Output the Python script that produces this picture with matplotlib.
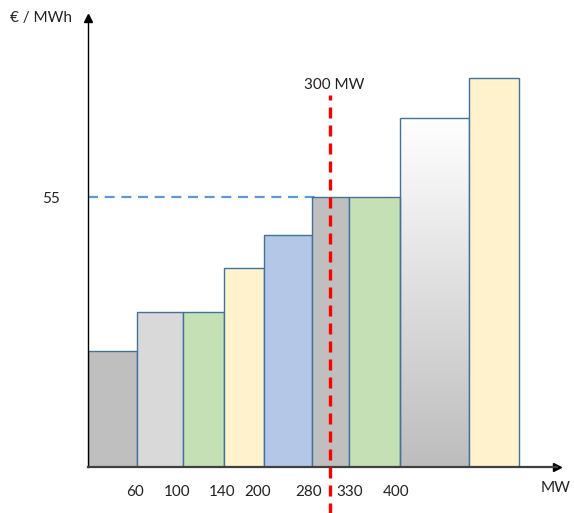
import numpy as np
import matplotlib.pyplot as plt
from matplotlib.colors import LinearSegmentedColormap
from matplotlib.patches import Rectangle

plt.rcParams['font.family'] = ['Lato', 'DejaVu Sans']

# Schematic merit-order blocks (width in chart units, price in EUR/MWh)
block_widths = [49, 46, 41, 40, 48, 37, 51, 69, 50]
block_prices = [23.6, 31.6, 31.6, 40.5, 47.3, 55, 55, 71.1, 79.2]
block_colors = ['#bfbfbf', '#d9d9d9', '#c5e0b4', '#fff2cc', '#b4c7e7',
                '#bfbfbf', '#c5e0b4', 'gradient', '#fff2cc']

# x-axis labels (schematic, not to scale)
tick_labels = ['60', '100', '140', '200', '280', '330', '400']
tick_pos = [47, 89, 134, 170, 221, 262, 308]

clearing_price = 55
demand_pos = 242      # where the 300 MW line sits
demand_label = '300 MW'

fig = plt.figure(figsize=(5.74, 5.13), dpi=100)
ax = fig.add_axes([88/574, 46/513, 469/574, 449/513])

edge = '#41719c'
grad_cmap = LinearSegmentedColormap.from_list('g', ['#bdbdbd', '#ffffff'])
left = 0
for w, p, c in zip(block_widths, block_prices, block_colors):
    if c == 'gradient':
        grad = np.linspace(0.0, 1.0, 256).reshape(-1, 1)
        ax.imshow(grad, extent=[left, left + w, 0, p], aspect='auto',
                  cmap=grad_cmap, origin='lower', zorder=1)
        ax.add_patch(Rectangle((left, 0), w, p, facecolor='none',
                               edgecolor=edge, lw=1, zorder=2))
    else:
        ax.add_patch(Rectangle((left, 0), w, p, facecolor=c,
                               edgecolor=edge, lw=1, zorder=2))
    left += w
ax.set_xlim(0, 469)
ax.set_ylim(0, 91.5)

# clearing price line
ax.plot([0, 232], [clearing_price, clearing_price], color='#5b9bd5',
        lw=1.6, dashes=(4.5, 3), zorder=1)

# demand line
ax.plot([demand_pos, demand_pos], [-9.5, 75.8], color='#ff0000', lw=2.4,
        dashes=(3.3, 2.1), zorder=4, clip_on=False)
ax.text(demand_pos + 4, 77.8, demand_label, ha='center', va='center',
        fontsize=11, color='#222222')

# axes
for s in ['top', 'right']:
    ax.spines[s].set_visible(False)
ax.spines['left'].set_color('black')
ax.spines['left'].set_linewidth(1.0)
ax.spines['bottom'].set_color('#404040')
ax.spines['bottom'].set_linewidth(1.6)
ax.plot(1, 0, '>', color='black', ms=6, transform=ax.transAxes, clip_on=False)
ax.plot(0, 1, '^', color='black', ms=6, transform=ax.transAxes, clip_on=False)

ax.set_xticks(tick_pos)
ax.set_xticklabels(tick_labels)
ax.set_yticks([clearing_price])
ax.set_yticklabels([str(clearing_price)])
ax.tick_params(length=0, labelsize=11, labelcolor='#222222')
ax.tick_params(axis='x', pad=13)
ax.tick_params(axis='y', pad=20)

ax.text(-78, 91.5, '€ / MWh', ha='left', va='center', fontsize=11, color='#222222')
ax.text(453, -4.3, 'MW', ha='left', va='center', fontsize=11, color='#222222')

fig.savefig('out.png', dpi=100)
